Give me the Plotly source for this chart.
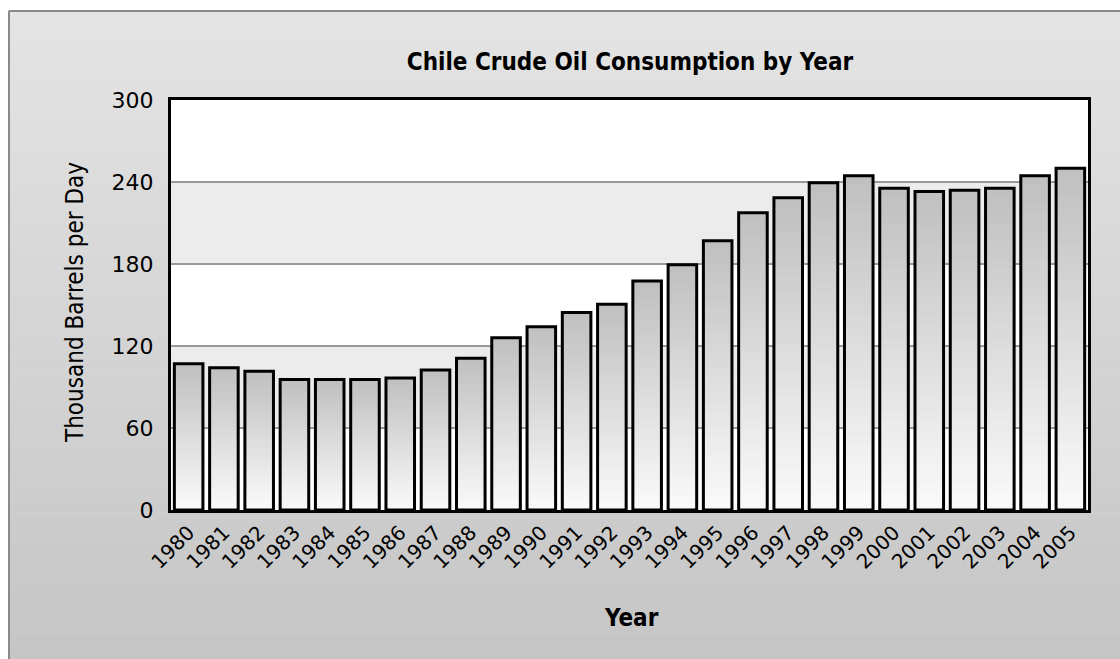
import plotly.graph_objects as go

# ---- data ----
years = [str(y) for y in range(1980, 2006)]
consumption = [107, 104, 101.5, 95.5, 95.5, 95.5, 96.5, 102.5, 111, 126,
               134, 144.5, 150.5, 167.5, 179.5, 197, 217.5, 228.5, 239.5, 244.5,
               235.5, 233, 234, 235.5, 244.5, 250]
y_tick_vals = [0, 60, 120, 180, 240, 300]
y_tick_text = ["0", "60", "120", "180", "240", "300"]

title_text = "Chile Crude Oil Consumption by Year"
x_title = "Year"
y_title = "Thousand Barrels per Day"

# ---- layout geometry ----
W, H = 1120, 659
L, R, T, B = 171, 32, 100, 149
PW, PH = W - L - R, H - T - B


def xp(px):
    return (px - L) / PW


def yp(py):
    return (H - B - py) / PH


def gray(v):
    v = int(round(v))
    return f"rgb({v},{v},{v})"


fig = go.Figure()

# bars with vertical gradient (overlay of progressively shorter bars)
N = 36
top_c, bot_c = 192, 251
for k in range(N):
    frac = 1 - k / N
    c = bot_c + (top_c - bot_c) * frac
    fig.add_trace(go.Bar(
        x=years, y=[v * frac for v in consumption],
        marker=dict(color=gray(c), line=dict(width=0)),
        hoverinfo="skip", showlegend=False,
    ))
# outline
fig.add_trace(go.Bar(
    x=years, y=consumption,
    marker=dict(color="rgba(0,0,0,0)", line=dict(color="black", width=3)),
    showlegend=False, name="Consumption",
))

shapes = []
# paper gradient background
S = 60
y_top, y_bot = 10, 665
for i in range(S):
    a = y_top + (y_bot - y_top) * i / S
    b = y_top + (y_bot - y_top) * (i + 1) / S
    c = 228 + (197 - 228) * (i + 0.5) / S
    shapes.append(dict(type="rect", xref="paper", yref="paper", layer="below",
                       x0=xp(8), x1=xp(1121), y0=yp(a), y1=yp(b + 0.5),
                       fillcolor=gray(c), line=dict(width=0)))
# outer frame: left and top edges
shapes.append(dict(type="line", xref="paper", yref="paper", layer="below",
                   x0=xp(9), x1=xp(1121), y0=yp(11), y1=yp(11),
                   line=dict(color="#8a8a8a", width=2)))
shapes.append(dict(type="line", xref="paper", yref="paper", layer="below",
                   x0=xp(9), x1=xp(9), y0=yp(11), y1=yp(660),
                   line=dict(color="#8a8a8a", width=2)))
# plot area white + bands
shapes.append(dict(type="rect", xref="x domain", yref="y domain", layer="below",
                   x0=0, x1=1, y0=0, y1=1, fillcolor="white", line=dict(width=0)))
for lo, hi in [(60, 120), (180, 240)]:
    shapes.append(dict(type="rect", xref="x domain", yref="y", layer="below",
                       x0=0, x1=1, y0=lo, y1=hi, fillcolor="#ececec", line=dict(width=0)))

cond = "DejaVu Sans Condensed, DejaVu Sans, sans-serif"
norm = "DejaVu Sans, Verdana, sans-serif"

fig.update_layout(
    width=W, height=H,
    margin=dict(l=L, r=R, t=T, b=B),
    paper_bgcolor="white",
    plot_bgcolor="white",
    barmode="overlay",
    bargap=0.19,
    shapes=shapes,
    font=dict(family=norm, color="black"),
    title=dict(text=f"<b>{title_text}</b>", x=xp(630), xref="paper", xanchor="center",
               y=1 - 62 / H, yref="container", yanchor="middle",
               font=dict(size=24, family=cond, color="black")),
    annotations=[
        dict(text=f"<b>{x_title}</b>", x=xp(631), y=yp(618), xref="paper", yref="paper",
             showarrow=False, xanchor="center", yanchor="middle",
             font=dict(size=24, family=cond, color="black")),
        dict(text=y_title, x=xp(75), y=yp(303), xref="paper", yref="paper",
             showarrow=False, xanchor="center", yanchor="middle", textangle=-90,
             font=dict(size=24, family=cond, color="black")),
    ],
    xaxis=dict(
        type="category", tickangle=-45, showgrid=False, ticks="",
        showline=True, linecolor="black", linewidth=3, mirror=True,
        tickfont=dict(size=20, family=norm, color="black"),
        fixedrange=True,
    ),
    yaxis=dict(
        range=[0, 300], tickvals=y_tick_vals, ticktext=y_tick_text,
        showgrid=True, gridcolor="#999999", gridwidth=2, zeroline=False,
        showline=True, linecolor="black", linewidth=3, mirror=True, ticks="",
        ticklabelstandoff=10,
        tickfont=dict(size=22, family=norm, color="black"),
        fixedrange=True,
    ),
    hovermode=False,
)

fig.write_html("out.html")
